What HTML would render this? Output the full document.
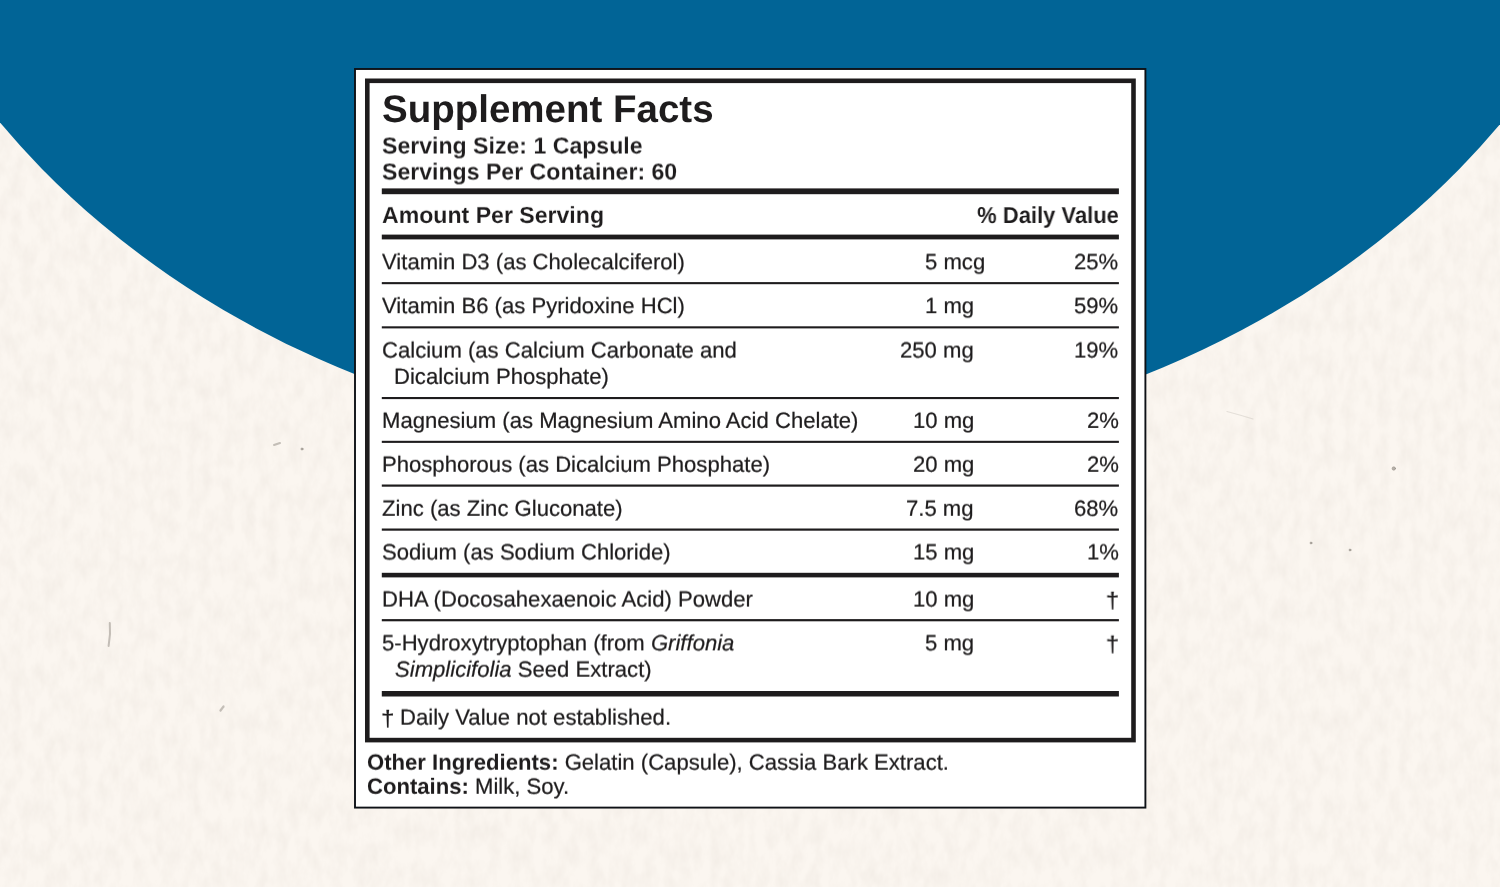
<!DOCTYPE html>
<html lang="en">
<head>
<meta charset="utf-8">
<title>Supplement Facts</title>
<style>
html,body{margin:0;padding:0;}
body{width:1500px;height:887px;overflow:hidden;position:relative;background:#fbf6f0;font-family:"Liberation Sans",Arial,Helvetica,sans-serif;color:#1e1c1d;text-rendering:geometricPrecision;-webkit-font-smoothing:antialiased;}
svg.bg{position:absolute;left:0;top:0;width:1500px;height:887px;display:block;}
.t{position:absolute;white-space:nowrap;will-change:transform;line-height:1;margin:0;padding:0;font-weight:400;}
.t.b,.t b{font-weight:700;}
.t b{-webkit-text-stroke:0px transparent;}
.t.l{transform-origin:0 50%;}
.t.r{transform-origin:100% 50%;}
</style>
</head>
<body>
<svg class="bg" width="1500" height="887" viewBox="0 0 1500 887">
<defs>
<filter id="paper" x="0" y="0" width="100%" height="100%" color-interpolation-filters="sRGB">
<feTurbulence type="fractalNoise" baseFrequency="0.09 0.045" numOctaves="5" seed="11" result="n"/>
<feColorMatrix in="n" type="matrix" values="0 0 0 0 0.78  0 0 0 0 0.74  0 0 0 0 0.70  0.24 0 0 0 -0.08"/>
</filter>
</defs>
<rect x="0" y="0" width="1500" height="887" fill="#fbf6f0"/>
<rect x="0" y="0" width="1500" height="887" filter="url(#paper)"/>
<g fill="#8d877f" stroke="#8d877f" stroke-linecap="round" fill-opacity="0.6" stroke-opacity="0.5">
<path d="M109.8 623 Q110.8 634 108.6 646" fill="none" stroke-width="2"/>
<path d="M220.5 710.5 L223.5 706.5" fill="none" stroke-width="2.2"/>
<path d="M274 445 L280 443" fill="none" stroke-width="2"/>
<circle cx="302" cy="449" r="1.1"/>
<circle cx="1393.8" cy="468.5" r="1.7"/>
<circle cx="1311" cy="543" r="1"/>
<circle cx="1350" cy="550" r="1"/>
<path d="M1227 411.5 Q1240 415 1253 419" fill="none" stroke-width="1.2" stroke-opacity="0.2"/>
</g>
<ellipse cx="750.7" cy="-318.9" rx="917.1" ry="768.5" fill="#016496"/>
<rect x="355" y="69" width="790.4" height="738.6" fill="#ffffff" stroke="#0e1116" stroke-width="1.9"/>
<rect x="367.3" y="80.8" width="766.2" height="659.3" fill="none" stroke="#1e1c1d" stroke-width="4.6"/>
<g fill="#1e1c1d">
<rect x="381.8" y="188.4" width="737.1" height="5.8"/>
<rect x="381.8" y="234.6" width="737.1" height="4.8"/>
<rect x="381.8" y="282.1" width="737.1" height="2.1"/>
<rect x="381.8" y="326.3" width="737.1" height="2.1"/>
<rect x="381.8" y="397" width="737.1" height="2.1"/>
<rect x="381.8" y="440.8" width="737.1" height="2.1"/>
<rect x="381.8" y="484.5" width="737.1" height="2.2"/>
<rect x="381.8" y="528.5" width="737.1" height="2.2"/>
<rect x="381.8" y="572.8" width="737.1" height="4.6"/>
<rect x="381.8" y="619.1" width="737.1" height="2.2"/>
<rect x="381.8" y="691" width="737.1" height="5.5"/>
</g>
</svg>
<h1 class="t l b" style="left:382px;top:91px;font-size:38.5px;transform:translateY(0.00px) rotate(0.001deg)">Supplement Facts</h1>
<div class="t l b" style="left:382px;top:134px;font-size:23.1px;transform:translateY(0.50px) rotate(0.001deg);-webkit-text-stroke:0.1px #fff">Serving Size: 1 Capsule</div>
<div class="t l b" style="left:382px;top:160px;font-size:23.1px;transform:translateY(0.50px) rotate(0.001deg);-webkit-text-stroke:0.1px #fff">Servings Per Container: 60</div>
<div class="t l b" style="left:382px;top:203px;font-size:23.1px;transform:translateY(0.90px) rotate(0.001deg);-webkit-text-stroke:0.1px #fff">Amount Per Serving</div>
<div class="t r b" style="right:380.8px;top:204px;font-size:23.1px;transform:translateY(0.00px) rotate(0.001deg) scaleX(0.952);-webkit-text-stroke:0.05px #fff">% Daily Value</div>
<div class="t l" style="left:382px;top:251px;font-size:22.1px;transform:translateY(0.30px) rotate(0.001deg);-webkit-text-stroke:0.22px #1e1c1d">Vitamin D3 (as Cholecalciferol)</div>
<div class="t r" style="right:515.2px;top:251px;font-size:22.1px;transform:translateY(0.30px) rotate(0.001deg);-webkit-text-stroke:0.22px #1e1c1d">5 mcg</div>
<div class="t r" style="right:381.5px;top:251px;font-size:22.1px;transform:translateY(0.30px) rotate(0.001deg);-webkit-text-stroke:0.22px #1e1c1d">25%</div>
<div class="t l" style="left:382px;top:295px;font-size:22.1px;transform:translateY(0.20px) rotate(0.001deg);-webkit-text-stroke:0.22px #1e1c1d">Vitamin B6 (as Pyridoxine HCl)</div>
<div class="t r" style="right:526px;top:295px;font-size:22.1px;transform:translateY(0.20px) rotate(0.001deg);-webkit-text-stroke:0.22px #1e1c1d">1 mg</div>
<div class="t r" style="right:381.5px;top:295px;font-size:22.1px;transform:translateY(0.20px) rotate(0.001deg);-webkit-text-stroke:0.22px #1e1c1d">59%</div>
<div class="t l" style="left:382px;top:339px;font-size:22.1px;transform:translateY(0.60px) rotate(0.001deg);-webkit-text-stroke:0.22px #1e1c1d">Calcium (as Calcium Carbonate and</div>
<div class="t l" style="left:394.4px;top:365px;font-size:22.1px;transform:translateY(0.90px) rotate(0.001deg);-webkit-text-stroke:0.22px #1e1c1d">Dicalcium Phosphate)</div>
<div class="t r" style="right:526px;top:339px;font-size:22.1px;transform:translateY(0.60px) rotate(0.001deg);-webkit-text-stroke:0.22px #1e1c1d">250 mg</div>
<div class="t r" style="right:381.5px;top:339px;font-size:22.1px;transform:translateY(0.60px) rotate(0.001deg);-webkit-text-stroke:0.22px #1e1c1d">19%</div>
<div class="t l" style="left:382px;top:409px;font-size:22.1px;transform:translateY(0.90px) rotate(0.001deg);-webkit-text-stroke:0.22px #1e1c1d">Magnesium (as Magnesium Amino Acid Chelate)</div>
<div class="t r" style="right:526px;top:409px;font-size:22.1px;transform:translateY(0.90px) rotate(0.001deg);-webkit-text-stroke:0.22px #1e1c1d">10 mg</div>
<div class="t r" style="right:381.5px;top:409px;font-size:22.1px;transform:translateY(0.90px) rotate(0.001deg);-webkit-text-stroke:0.22px #1e1c1d">2%</div>
<div class="t l" style="left:382px;top:453px;font-size:22.1px;transform:translateY(0.80px) rotate(0.001deg);-webkit-text-stroke:0.22px #1e1c1d">Phosphorous (as Dicalcium Phosphate)</div>
<div class="t r" style="right:526px;top:453px;font-size:22.1px;transform:translateY(0.80px) rotate(0.001deg);-webkit-text-stroke:0.22px #1e1c1d">20 mg</div>
<div class="t r" style="right:381.5px;top:453px;font-size:22.1px;transform:translateY(0.80px) rotate(0.001deg);-webkit-text-stroke:0.22px #1e1c1d">2%</div>
<div class="t l" style="left:382px;top:497px;font-size:22.1px;transform:translateY(0.80px) rotate(0.001deg);-webkit-text-stroke:0.22px #1e1c1d">Zinc (as Zinc Gluconate)</div>
<div class="t r" style="right:526px;top:497px;font-size:22.1px;transform:translateY(0.80px) rotate(0.001deg);-webkit-text-stroke:0.22px #1e1c1d">7.5 mg</div>
<div class="t r" style="right:381.5px;top:497px;font-size:22.1px;transform:translateY(0.80px) rotate(0.001deg);-webkit-text-stroke:0.22px #1e1c1d">68%</div>
<div class="t l" style="left:382px;top:541px;font-size:22.1px;transform:translateY(0.50px) rotate(0.001deg);-webkit-text-stroke:0.22px #1e1c1d">Sodium (as Sodium Chloride)</div>
<div class="t r" style="right:526px;top:541px;font-size:22.1px;transform:translateY(0.50px) rotate(0.001deg);-webkit-text-stroke:0.22px #1e1c1d">15 mg</div>
<div class="t r" style="right:381.5px;top:541px;font-size:22.1px;transform:translateY(0.50px) rotate(0.001deg);-webkit-text-stroke:0.22px #1e1c1d">1%</div>
<div class="t l" style="left:382px;top:588px;font-size:22.1px;transform:translateY(0.60px) rotate(0.001deg);-webkit-text-stroke:0.22px #1e1c1d">DHA (Docosahexaenoic Acid) Powder</div>
<div class="t r" style="right:526px;top:588px;font-size:22.1px;transform:translateY(0.60px) rotate(0.001deg);-webkit-text-stroke:0.22px #1e1c1d">10 mg</div>
<div class="t r" style="right:380.7px;top:589px;font-size:22.1px;transform:translateY(0.90px) rotate(0.001deg) scaleX(1.1);-webkit-text-stroke:0.22px #1e1c1d">†</div>
<div class="t l" style="left:382px;top:632px;font-size:22.1px;transform:translateY(0.40px) rotate(0.001deg);-webkit-text-stroke:0.22px #1e1c1d">5-Hydroxytryptophan (from <i>Griffonia</i></div>
<div class="t l" style="left:395px;top:658px;font-size:22.1px;transform:translateY(0.70px) rotate(0.001deg);-webkit-text-stroke:0.22px #1e1c1d"><i>Simplicifolia</i> Seed Extract)</div>
<div class="t r" style="right:526px;top:632px;font-size:22.1px;transform:translateY(0.40px) rotate(0.001deg);-webkit-text-stroke:0.22px #1e1c1d">5 mg</div>
<div class="t r" style="right:380.7px;top:633px;font-size:22.1px;transform:translateY(0.70px) rotate(0.001deg) scaleX(1.1);-webkit-text-stroke:0.22px #1e1c1d">†</div>
<div class="t l" style="left:381.1px;top:708px;font-size:22.1px;transform:translateY(0.00px) rotate(0.001deg) scaleX(1.1);-webkit-text-stroke:0.22px #1e1c1d">†</div>
<div class="t l" style="left:400.2px;top:706px;font-size:22.1px;transform:translateY(0.70px) rotate(0.001deg);-webkit-text-stroke:0.22px #1e1c1d">Daily Value not established.</div>
<div class="t l" style="left:367px;top:751px;font-size:22.1px;transform:translateY(0.70px) rotate(0.001deg);-webkit-text-stroke:0.22px #1e1c1d"><b>Other Ingredients:</b> Gelatin (Capsule), Cassia Bark Extract.</div>
<div class="t l" style="left:367px;top:775px;font-size:22.1px;transform:translateY(0.80px) rotate(0.001deg);-webkit-text-stroke:0.22px #1e1c1d"><b>Contains:</b> Milk, Soy.</div>
</body>
</html>
